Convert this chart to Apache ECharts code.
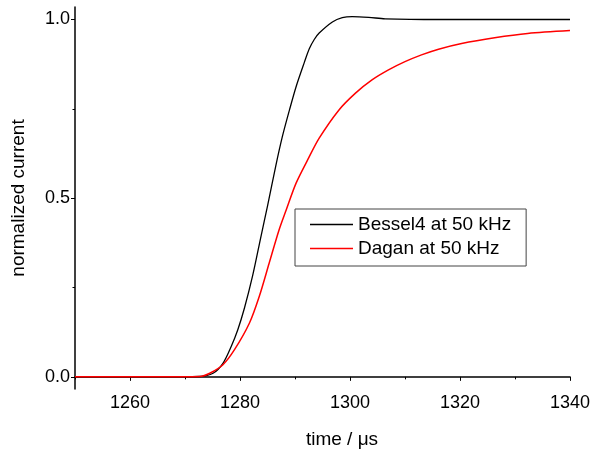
<!DOCTYPE html>
<html>
<head>
<meta charset="utf-8">
<script src="https://cdn.jsdelivr.net/npm/echarts@6/dist/echarts.min.js"></script>
<style>
html,body{margin:0;padding:0;background:#fff;}
#chart{width:593px;height:453px;}
</style>
</head>
<body>
<div id="chart"></div>
<script>
// ---- data ----
var besselTime = [1250, 1265, 1272.7, 1275.1, 1276.9, 1278.4, 1279.6, 1280.8, 1282.3, 1283.8, 1285.0, 1286.5, 1287.7, 1289.0, 1290.2, 1291.7, 1292.6, 1293.5, 1294.4, 1296.8, 1298.6, 1300.4, 1303.4, 1306.4, 1316.1, 1340];
var besselValues = [0, 0, 0.001, 0.010, 0.038, 0.085, 0.132, 0.192, 0.283, 0.392, 0.478, 0.590, 0.672, 0.747, 0.812, 0.880, 0.918, 0.944, 0.962, 0.993, 1.005, 1.008, 1.006, 1.002, 1.000, 1.000];
var daganTime = [1250, 1265, 1272.7, 1274.5, 1276.9, 1279.0, 1281.7, 1283.5, 1285.3, 1287.1, 1288.4, 1290.2, 1292.3, 1294.4, 1298.0, 1301.0, 1304.0, 1307.0, 1310.0, 1313.0, 1316.1, 1320.3, 1326.3, 1332.3, 1340];
var daganValues = [0, 0, 0.001, 0.010, 0.034, 0.076, 0.150, 0.225, 0.318, 0.411, 0.467, 0.542, 0.607, 0.668, 0.747, 0.794, 0.831, 0.859, 0.882, 0.901, 0.917, 0.933, 0.949, 0.961, 0.969];
var seriesNames = ['Bessel4 at 50 kHz', 'Dagan at 50 kHz'];
var xMajorTicks = [1260, 1280, 1300, 1320, 1340];
var xMinorTicks = [1250, 1270, 1290, 1310, 1330];
var yMajorTicks = [0, 0.5, 1.0];
var yMinorTicks = [0.25, 0.75];
var xTitle = 'time / \u03bcs';
var yTitle = 'normalized current';

function pairs(xs, ys) { return xs.map(function (x, i) { return [x, ys[i]]; }); }

var FONT = '"Liberation Sans", Arial, Helvetica, sans-serif';
var chart = echarts.init(document.getElementById('chart'));
var xMin = 1250, xMax = 1340, yMin = -0.034, yMax = 1.035;
var lineIcon = 'path://M0,0L43,0L43,1.4L0,1.4Z';

chart.setOption({
  animation: false,
  backgroundColor: '#fff',
  grid: { left: 75, right: 20.5, top: 7, bottom: 64, containLabel: false },
  xAxis: [{
    type: 'value', min: xMin, max: xMax, position: 'bottom',
    axisLine: { show: true, lineStyle: { color: '#000', width: 1.5 } },
    axisTick: { show: true, customValues: xMajorTicks, length: 4, lineStyle: { color: '#000', width: 1 } },
    axisLabel: { customValues: xMajorTicks, fontSize: 18, color: '#000', fontFamily: FONT, margin: 5,
      formatter: function (v) { return String(v); } },
    splitLine: { show: false }
  }, {
    type: 'value', min: xMin, max: xMax, position: 'bottom', offset: 0,
    axisLine: { show: false },
    axisTick: { show: true, customValues: xMinorTicks, length: 2.5, lineStyle: { color: '#000', width: 1 } },
    axisLabel: { show: false },
    splitLine: { show: false }
  }],
  yAxis: [{
    type: 'value', min: yMin, max: yMax, position: 'left',
    axisLine: { show: true, lineStyle: { color: '#000', width: 1.5 } },
    axisTick: { show: true, customValues: yMajorTicks, length: 4, lineStyle: { color: '#000', width: 1 } },
    axisLabel: { customValues: yMajorTicks, fontSize: 18, color: '#000', fontFamily: FONT, margin: 5,
      formatter: function (v) { return v.toFixed(1); } },
    splitLine: { show: false }
  }, {
    type: 'value', min: yMin, max: yMax, position: 'left', offset: 0,
    axisLine: { show: false },
    axisTick: { show: true, customValues: yMinorTicks, length: 2.5, lineStyle: { color: '#000', width: 1 } },
    axisLabel: { show: false },
    splitLine: { show: false }
  }],
  legend: {
    orient: 'vertical', left: 295, top: 209,
    padding: [6, 15, 8, 15], itemGap: 5, itemWidth: 43, itemHeight: 14,
    borderColor: '#444', borderWidth: 1, backgroundColor: '#fff',
    textStyle: { fontSize: 19, color: '#000', fontFamily: FONT },
    data: [{ name: seriesNames[0], icon: lineIcon }, { name: seriesNames[1], icon: lineIcon }]
  },
  graphic: [
    { type: 'text', x: 342, y: 440, style: { text: xTitle, font: '19px ' + FONT, fill: '#000', textAlign: 'center', textVerticalAlign: 'middle' } },
    { type: 'text', x: 19, y: 198, rotation: Math.PI / 2, style: { text: yTitle, font: '19px ' + FONT, fill: '#000', textAlign: 'center', textVerticalAlign: 'middle' } }
  ],
  series: [{
    name: seriesNames[0], type: 'line', xAxisIndex: 0, yAxisIndex: 0,
    data: pairs(besselTime, besselValues), symbol: 'none', smooth: 0.3,
    lineStyle: { color: '#000', width: 1.3 }, itemStyle: { color: '#000' }, z: 3
  }, {
    name: seriesNames[1], type: 'line', xAxisIndex: 0, yAxisIndex: 0,
    data: pairs(daganTime, daganValues), symbol: 'none', smooth: 0.3,
    lineStyle: { color: '#f00', width: 1.5 }, itemStyle: { color: '#f00' }, z: 4
  }]
});
</script>
</body>
</html>
